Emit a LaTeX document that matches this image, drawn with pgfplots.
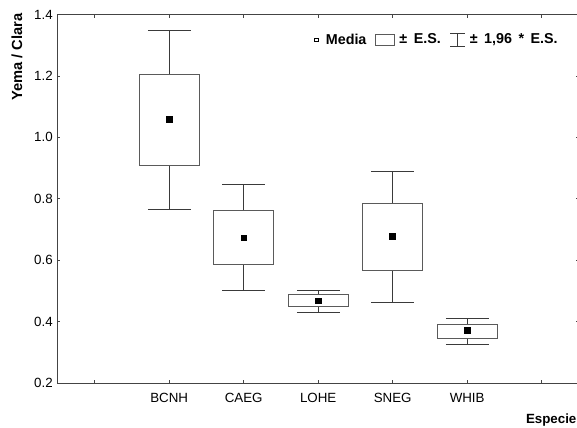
\documentclass[border=0pt]{standalone}
\usepackage{pgfplots}
\pgfplotsset{compat=1.18}
\usepgfplotslibrary{statistics}
\usepackage{fontspec}
\setmainfont{Liberation Sans}
\definecolor{axisgray}{HTML}{444444}
\definecolor{boxgray}{HTML}{5A5A5A}
\definecolor{whiskgray}{HTML}{3A3A3A}
\newcommand\lsp{\hspace{0.45em}}
\begin{document}
\begin{tikzpicture}
\begin{axis}[
  scale only axis, width=391.1pt, height=276.4pt,
  xmin=-0.5, xmax=6.5, ymin=0.2, ymax=1.4,
  xtick={0,1,2,3,4,5,6}, xticklabels={,BCNH,CAEG,LOHE,SNEG,WHIB,},
  ytick={0.2,0.4,0.6,0.8,1.0,1.2,1.4},
  yticklabel style={/pgf/number format/.cd, fixed, fixed zerofill, precision=1},
  /pgf/number format/assume math mode=true,
  tick label style={font=\fontsize{10}{12}\selectfont, text=black},
  xticklabel style={yshift=-4pt},
  major tick length=2.25pt,
  axis line style={axisgray, line width=0.75pt},
  every tick/.style={axisgray, line width=0.6pt},
  boxplot/draw direction=y,
  boxplot/every median/.style={draw=none},
  boxplot/every whisker/.style={whiskgray, line width=0.75pt},
  boxplot/every box/.style={boxgray, line width=0.75pt, fill=white},
  legend columns=3,
  legend style={at={(rel axis cs:0.9597,0.931)}, anchor=east, draw=none, fill=none, inner sep=0pt,
    nodes={inner sep=0pt},
    font=\fontsize{10.75}{12}\selectfont\bfseries,
    /tikz/every odd column/.append style={column sep=3pt},
    /tikz/every even column/.append style={column sep=6.75pt}},
  legend cell align=left,
]
\addplot[forget plot, boxplot prepared={draw position=1, lower whisker=0.765, lower quartile=0.910, median=1.060, upper quartile=1.206, upper whisker=1.349, box extend=0.805, whisker extend=0.573}] coordinates {};
\addplot[forget plot, boxplot prepared={draw position=2, lower whisker=0.503, lower quartile=0.586, median=0.673, upper quartile=0.763, upper whisker=0.847, box extend=0.805, whisker extend=0.573}] coordinates {};
\addplot[forget plot, boxplot prepared={draw position=3, lower whisker=0.429, lower quartile=0.448, median=0.468, upper quartile=0.487, upper whisker=0.503, box extend=0.805, whisker extend=0.573}] coordinates {};
\addplot[forget plot, boxplot prepared={draw position=4, lower whisker=0.463, lower quartile=0.568, median=0.678, upper quartile=0.785, upper whisker=0.889, box extend=0.805, whisker extend=0.573}] coordinates {};
\addplot[forget plot, boxplot prepared={draw position=5, lower whisker=0.327, lower quartile=0.346, median=0.371, upper quartile=0.392, upper whisker=0.410, box extend=0.805, whisker extend=0.573}] coordinates {};
\addplot[forget plot, only marks, mark=square*, mark size=2.2pt, black] coordinates {(1,1.060) (2,0.673) (3,0.468) (4,0.678) (5,0.371)};
\addlegendimage{legend image code/.code={\draw[black, line width=0.5pt] (0pt,-1.3pt) rectangle (2.6pt,1.3pt); \path (5.3pt,0pt);}}
\addlegendentry{Media}
\addlegendimage{legend image code/.code={\draw[boxgray, line width=0.75pt] (0pt,-4pt) rectangle (14.25pt,4pt);}}
\addlegendentry{±\lsp E.S.}
\addlegendimage{legend image code/.code={\draw[whiskgray, line width=0.75pt] (0pt,4.75pt) -- (11.25pt,4.75pt) (5.6pt,4.75pt) -- (5.6pt,-4.75pt) (0pt,-4.75pt) -- (11.25pt,-4.75pt);}}
\addlegendentry{±\lsp 1,96\lsp *\lsp E.S.}
\end{axis}
\node[rotate=90, anchor=east, font=\fontsize{11}{12}\selectfont\bfseries, inner sep=0pt] at ([xshift=-30.4pt, yshift=1.1pt]current axis.north west) {Yema / Clara};
\node[anchor=base east, font=\fontsize{10}{12}\selectfont\bfseries, inner sep=0pt] at ([xshift=389.4pt, yshift=-30.5pt]current axis.south west) {Especie};
\pgfresetboundingbox
\path ([xshift=-43.1pt, yshift=-33pt]current axis.south west) rectangle ([xshift=389.65pt, yshift=10.9pt]current axis.north west);
\end{tikzpicture}
\end{document}
